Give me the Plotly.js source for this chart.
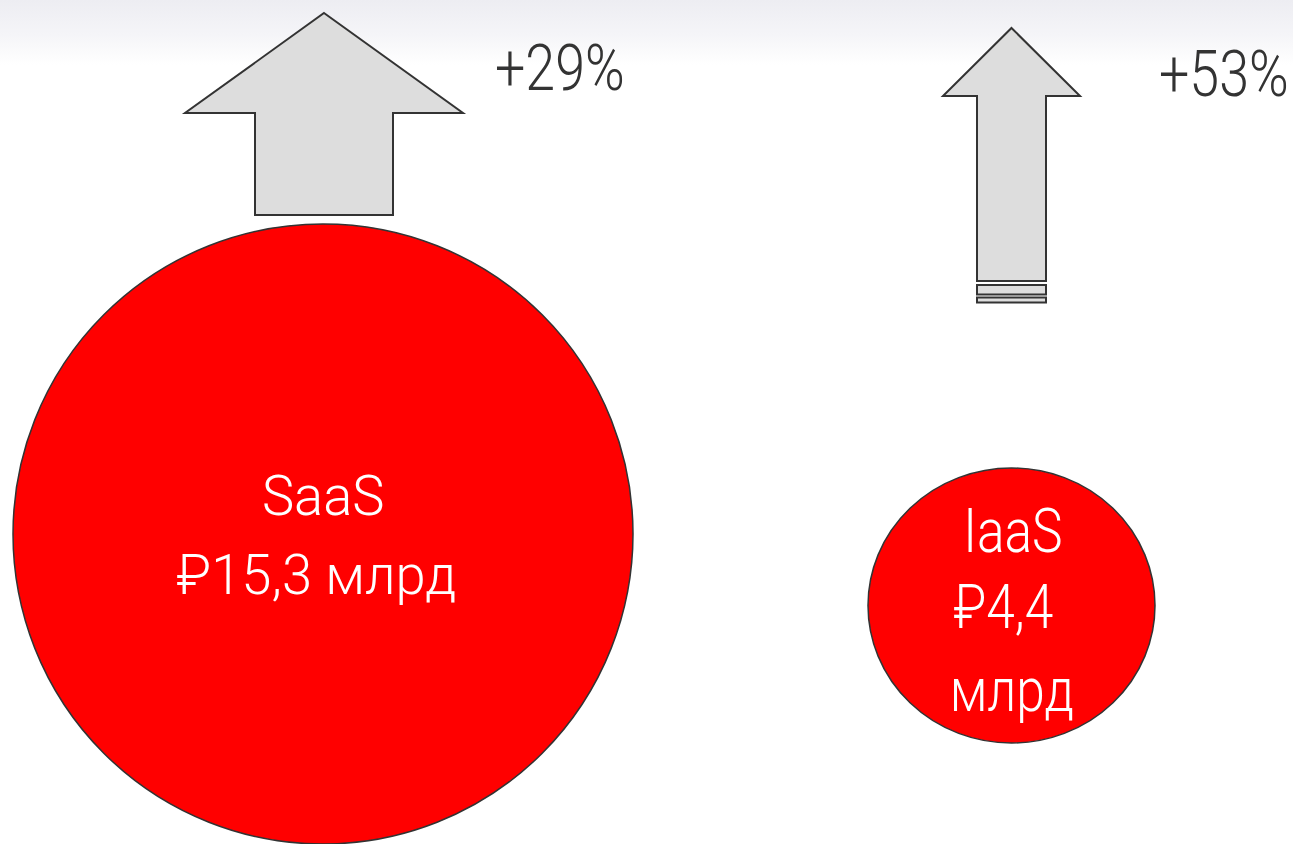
<!DOCTYPE html>
<html>
<head>
<meta charset="utf-8">
<script src="https://cdn.plot.ly/plotly-3.0.1.min.js"></script>
<style>
  html, body { margin: 0; padding: 0; }
  body { background: linear-gradient(to bottom, #ededf2 0px, #f5f5f8 35px, #ffffff 65px, #ffffff 100%); }
  #chart { width: 1293px; height: 844px; }
</style>
</head>
<body>
<div id="chart"></div>
<script>
// ---- data ----
const categories = ['SaaS', 'IaaS'];
const valuesBn = [15.3, 4.4];           // млрд руб.
const growthPct = [29, 53];             // % growth
const labelLines = [['SaaS', '₽15,3 млрд'], ['IaaS', '₽4,4', 'млрд']];

// ---- layout geometry (pixel space, y downward) ----
const geom = [
  { cx: 323, cy: 534, rx: 310, ry: 310,
    arrow: { tip: 13, headBase: 113, headL: 185, headR: 463, shaftL: 255, shaftR: 393, bottom: 215, stripes: [] },
    pct: { x: 493, y: 68 },
    label: { size: 56, squeeze: 0.97, ys: [495.5, 575], dx: [0, -7] } },
  { cx: 1011.5, cy: 605.5, rx: 143.5, ry: 137.5,
    arrow: { tip: 28, headBase: 96, headL: 943, headR: 1080, shaftL: 977, shaftR: 1046, bottom: 281, stripes: [[285, 294.5], [297.5, 302.5]] },
    pct: { x: 1157, y: 74 },
    label: { size: 62, squeeze: 0.83, ys: [530.5, 606.5, 689], dx: [1, -8, 0] } }
];

const FONT = 'Roboto, "Liberation Sans", sans-serif';
const PCT_SQUEEZE = 0.84;
const shapes = [];
const annotations = [];

categories.forEach((cat, i) => {
  const g = geom[i];
  const a = g.arrow;
  const mid = (a.headL + a.headR) / 2;
  shapes.push({
    type: 'path', xref: 'x', yref: 'y',
    path: `M ${mid} ${a.tip} L ${a.headR} ${a.headBase} L ${a.shaftR} ${a.headBase} L ${a.shaftR} ${a.bottom} L ${a.shaftL} ${a.bottom} L ${a.shaftL} ${a.headBase} L ${a.headL} ${a.headBase} Z`,
    fillcolor: '#dddddd', line: { color: '#333333', width: 2 }
  });
  a.stripes.forEach(s => {
    shapes.push({ type: 'rect', xref: 'x', yref: 'y', x0: a.shaftL, x1: a.shaftR, y0: s[0], y1: s[1],
      fillcolor: '#dddddd', line: { color: '#333333', width: 2 } });
  });
  shapes.push({
    type: 'circle', xref: 'x', yref: 'y',
    x0: g.cx - g.rx, x1: g.cx + g.rx, y0: g.cy - g.ry, y1: g.cy + g.ry,
    fillcolor: '#ff0000', line: { color: '#333333', width: 1.5 }
  });
  annotations.push({
    xref: 'x', yref: 'y', x: g.pct.x, y: g.pct.y, xanchor: 'left', yanchor: 'middle',
    text: '+' + growthPct[i] + '%', showarrow: false,
    font: { family: FONT, size: 64, weight: 300, color: '#333333' },
    name: 'pct|left|' + PCT_SQUEEZE
  });
  labelLines[i].forEach((line, j) => {
    annotations.push({
      xref: 'x', yref: 'y', x: g.cx + g.label.dx[j], y: g.label.ys[j], xanchor: 'center', yanchor: 'middle',
      text: line, showarrow: false, align: 'center',
      font: { family: FONT, size: g.label.size, weight: 300, color: '#ffffff' },
      name: 'lbl|center|' + g.label.squeeze
    });
  });
});

const layout = {
  width: 1293, height: 844,
  margin: { l: 0, r: 0, t: 0, b: 0 },
  paper_bgcolor: 'rgba(0,0,0,0)', plot_bgcolor: 'rgba(0,0,0,0)',
  xaxis: { range: [0, 1293], visible: false, fixedrange: true },
  yaxis: { range: [844, 0], visible: false, fixedrange: true },
  showlegend: false,
  shapes: shapes,
  annotations: annotations
};

Plotly.newPlot('chart', [{ x: [], y: [], type: 'scatter', hoverinfo: 'skip' }], layout, { displayModeBar: false, staticPlot: true })
  .then(gd => {
    // condensed look: squeeze each annotation text horizontally
    const texts = gd.querySelectorAll('.annotation text.annotation-text');
    texts.forEach((t, k) => {
      const parts = (annotations[k] && annotations[k].name || 'x|center|1').split('|');
      t.style.transformBox = 'fill-box';
      t.style.transformOrigin = parts[1] + ' center';
      t.style.transform = 'scaleX(' + parts[2] + ')';
    });
  });
</script>
</body>
</html>
